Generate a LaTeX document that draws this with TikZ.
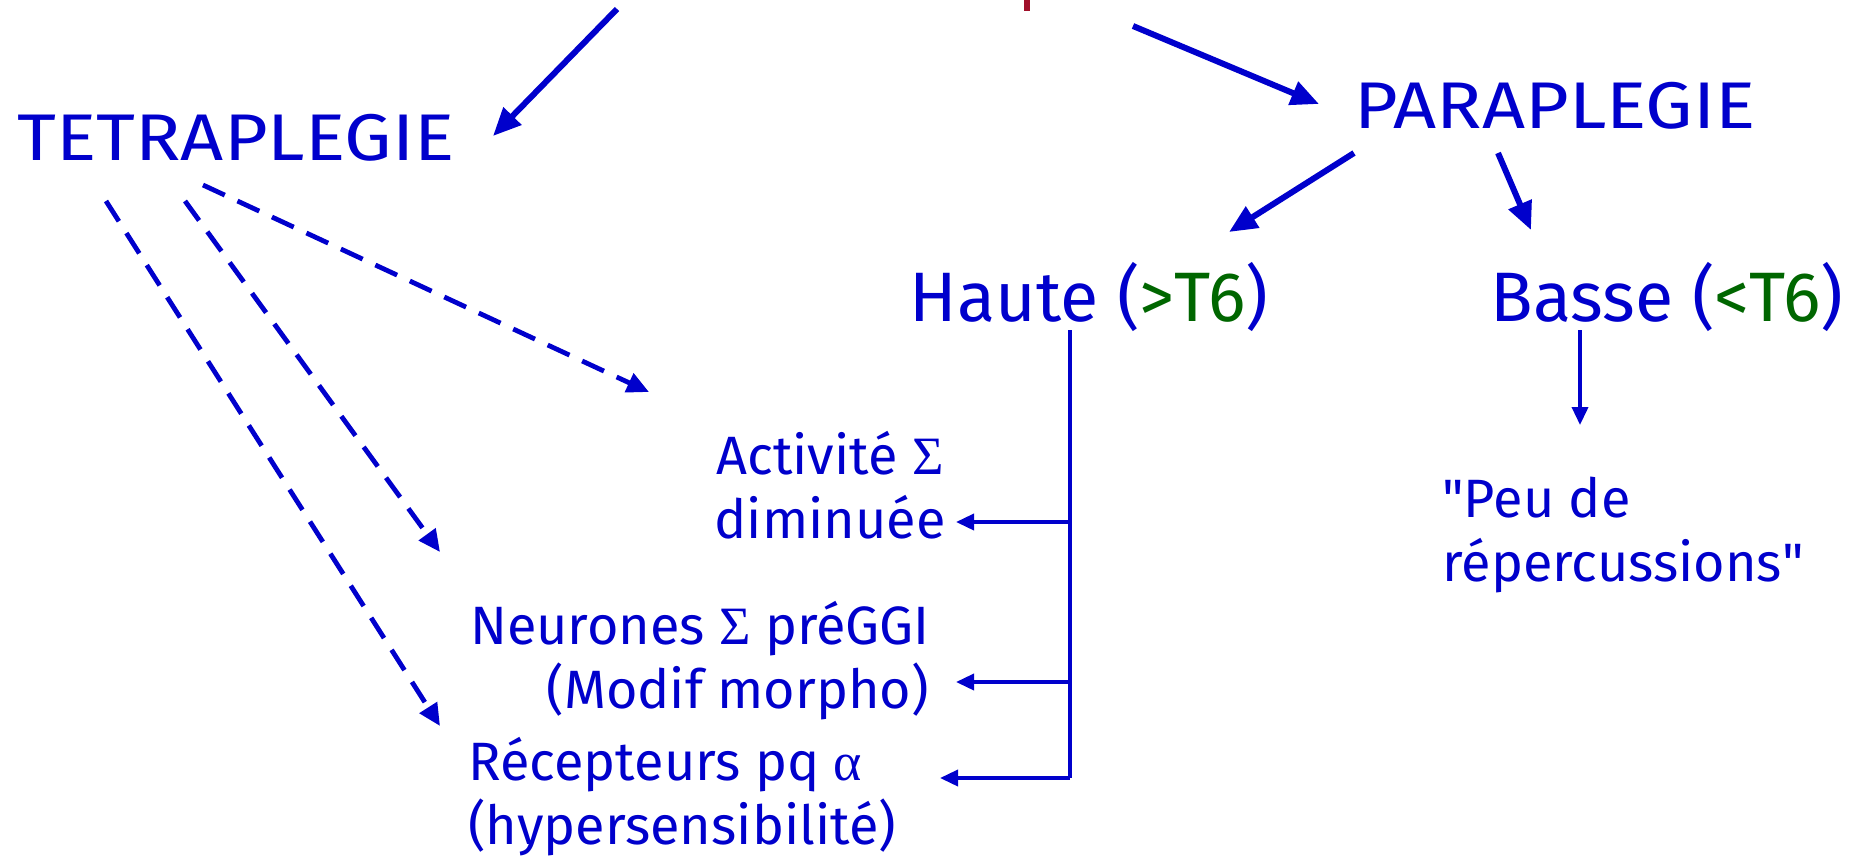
\documentclass[tikz,border=0pt]{standalone}
\usepackage{fontspec}
\setmainfont{Fira Sans}
\newfontfamily\widefont[FakeStretch=1.14]{Fira Sans}
\newfontfamily\plainq[Ligatures=TeXOff]{Fira Sans}
\newfontfamily\symf{Liberation Serif}
\usetikzlibrary{arrows.meta}
\definecolor{bl}{HTML}{0000CC}
\definecolor{gr}{HTML}{006600}
\definecolor{rd}{HTML}{A0102A}
\tikzset{
  big/.style={text=bl, font=\widefont\fontsize{33}{38}\selectfont, inner sep=0pt},
  mid/.style={text=bl, font=\fontsize{35}{40}\selectfont, inner sep=0pt},
  small/.style={text=bl, font=\fontsize{27}{32}\selectfont, inner sep=0pt},
  thickarr/.style={draw=bl, line width=3pt, -{Triangle[length=14pt,width=12pt]}},
  dasharr/.style={draw=bl, line width=2.4pt, dash pattern=on 12pt off 7pt, -{Triangle[length=11pt,width=10pt]}},
  medarr/.style={draw=bl, line width=1.8pt, -{Triangle[length=9pt,width=8pt]}},
  plainline/.style={draw=bl, line width=1.8pt},
}
\begin{document}
\begin{tikzpicture}[x=0.5pt,y=-0.5pt]
\useasboundingbox (0,0) rectangle (1850,858);
% red mark at top
\draw[rd, line width=3pt] (1027,-2) -- (1027,11);
% nodes
\node[big] (tetra) at (236,138) {TETRAPLEGIE};
\node[big] (para) at (1555,106) {PARAPLEGIE};
\node[mid] (haute) at (1089,297) {Haute (\textcolor{gr}{>T6})};
\node[mid] (basse) at (1667,297) {Basse (\textcolor{gr}{<T6})};
\node[small, align=left, anchor=west] (peu) at (1442,535) {{\plainq"}Peu de\\répercussions{\plainq"}};
\node[small, align=center] (act) at (830,485) {Activité {\symf Σ}\\diminuée};
\node[small, align=center] (neur) at (700,661) {Neurones {\symf Σ} préGGI\\\hspace{1.4em}(Modif morpho)};
\node[small, align=left, anchor=west] (recep) at (468,797) {Récepteurs pq {\symf α}\\(hypersensibilité)};
% coordinates for connector ends
\coordinate (tlS) at (617,9);
\coordinate (tlE) at (493,136);
\coordinate (trS) at (1133,26);
\coordinate (trE) at (1319,104);
\coordinate (p1S) at (1354,153);
\coordinate (p1E) at (1229,232);
\coordinate (p2S) at (1498,153);
\coordinate (p2E) at (1531,230);
\coordinate (bS) at (1580,330);
\coordinate (bE) at (1580,425);
\coordinate (vT) at (1070,330);
\coordinate (v1) at (1070,522);
\coordinate (v2) at (1070,682);
\coordinate (v3) at (1070,778);
\coordinate (a1) at (956,522);
\coordinate (a2) at (956,682);
\coordinate (a3) at (940,778);
\coordinate (d1S) at (203,185);
\coordinate (d1E) at (649,392);
\coordinate (d2S) at (185,201);
\coordinate (d2E) at (440,552);
\coordinate (d3S) at (106,201);
\coordinate (d3E) at (440,726);
% connectors
\draw[thickarr] (tlS) -- (tlE);
\draw[thickarr] (trS) -- (trE);
\draw[thickarr] (p1S) -- (p1E);
\draw[thickarr] (p2S) -- (p2E);
\draw[medarr] (bS) -- (bE);
\draw[plainline] (vT) -- (v3);
\draw[medarr] (v1) -- (a1);
\draw[medarr] (v2) -- (a2);
\draw[medarr] (v3) -- (a3);
\draw[dasharr] (d1S) -- (d1E);
\draw[dasharr] (d2S) -- (d2E);
\draw[dasharr] (d3S) -- (d3E);
\end{tikzpicture}
\end{document}
